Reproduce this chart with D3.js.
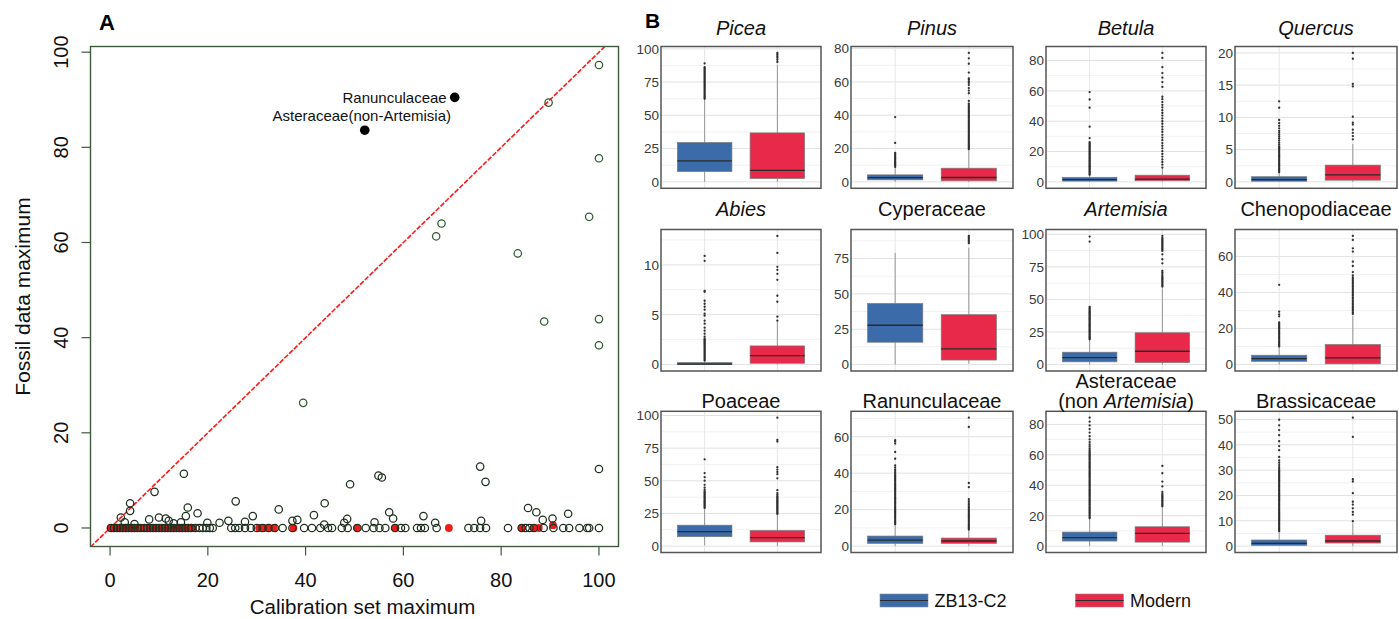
<!DOCTYPE html>
<html>
<head>
<meta charset="utf-8">
<script src="https://cdn.jsdelivr.net/npm/d3@7"></script>
<style>
  body { margin: 0; background: #fff; }
  svg { display: block; font-family: "Liberation Sans", Arial, sans-serif; }
</style>
</head>
<body>
<svg id="fig" width="1399" height="619"></svg>
<script>
// ---------------- Panel A data: calibration-set vs fossil maxima ----------------
// taxa whose fossil maximum rises above zero (open circles)
const risingX = [100, 89.7, 100, 67.8, 66.7, 98, 83.4, 88.8, 100, 100, 39.5, 100, 15.1, 75.7, 76.8,
  54.9, 55.6, 49.1, 9.1, 25.7, 43.9, 4.1, 4.1, 15.9, 34.5, 85.5, 87.2, 93.7, 90.5, 88.5, 75.9,
  57.1, 57.9, 64.1, 66.5, 41.7, 29.2, 17.9, 15.5, 10.0, 8.0, 11.4, 2.2, 24.2, 37.3, 38.3, 48.5,
  47.9, 27.6, 22.4, 14.5, 19.9, 54.1, 43.8, 3.0, 12.0, 5.0, 13.0];
const risingY = [97.3, 89.4, 77.7, 64.0, 61.3, 65.4, 57.7, 43.4, 43.9, 38.4, 26.3, 12.4, 11.4, 12.9, 9.7,
  11.0, 10.6, 9.2, 7.6, 5.6, 5.2, 5.2, 3.6, 4.3, 3.9, 4.2, 3.3, 3.0, 2.0, 1.7, 1.5,
  3.3, 2.0, 2.5, 1.1, 2.7, 2.5, 3.1, 2.5, 2.2, 1.8, 2.0, 2.2, 1.5, 1.5, 1.7, 1.9,
  1.1, 1.3, 1.1, 1.2, 1.1, 1.2, 0.7, 1.2, 1.5, 0.8, 1.0];
// taxa absent from the fossil record (open circles on the zero line)
const flatX = [0.2, 0.8, 1.4, 2, 2.6, 3.2, 3.8, 4.4, 5, 5.6, 6.2, 7, 7.6, 8.2, 8.8, 9.4, 10, 10.6,
  11.2, 11.8, 12.4, 13, 13.6, 14.2, 14.8, 15.4, 16, 16.6, 17.5, 18.3, 19, 19.7, 20.4, 21,
  24.8, 25.6, 26.4, 27.6, 28.8, 30.0, 31.2, 32.4, 33.7, 35.3, 37.3, 39.7, 41.3, 43.0, 44.6,
  45.4, 47.4, 48.6, 50.6, 52.3, 53.9, 55.1, 56.3, 58.3, 59.5, 60.4, 62.8, 63.6, 64.4, 66.8,
  73.3, 74.5, 75.7, 76.9, 81.4, 84.2, 85.0, 85.8, 86.7, 88.7, 90.7, 92.7, 93.9, 96.0, 97.6,
  98.0, 100];
// red filled points
const redX = [0.1, 0.4, 0.7, 1, 1.3, 1.6, 2, 2.4, 2.8, 3.2, 3.6, 4, 4.5, 5, 5.5, 6, 6.5, 7, 7.5, 8,
  8.5, 9, 9.5, 10, 10.5, 11, 11.5, 12, 12.5, 13, 13.5, 14, 14.5, 15, 15.5, 16, 16.5, 17,
  30.5, 31.5, 32.5, 33.5, 37.5, 50.5, 58.3, 69.3, 84.2, 86.7, 87.7, 90.6];
const redY = [0, 0, 0, 0, 0, 0, 0, 0, 0, 0, 0, 0, 0, 0, 0, 0, 0, 0, 0, 0,
  0, 0, 0, 0, 0, 0, 0, 0, 0, 0, 0, 0, 0, 0, 0, 0, 0, 0,
  0, 0, 0, 0, 0, 0, 0, 0, 0, 0, 0, 0.6];
// labelled taxa
const namedTaxa = ["Ranunculaceae", "Asteraceae(non-Artemisia)"];
const namedX = [70.5, 52.1];
const namedY = [90.5, 83.6];
const namedPos = ["left", "above"];
const scatterTicks = [0, 20, 40, 60, 80, 100];

// ---------------- Panel B data: boxplots per taxon ----------------
const taxa = ["Picea", "Pinus", "Betula", "Quercus", "Abies", "Cyperaceae", "Artemisia",
  "Chenopodiaceae", "Poaceae", "Ranunculaceae", "Asteraceae", "Brassicaceae"];
// title lines, each a list of [text, italic]
const titleLines = [
  [[["Picea", true]]], [[["Pinus", true]]], [[["Betula", true]]], [[["Quercus", true]]],
  [[["Abies", true]]], [[["Cyperaceae", false]]], [[["Artemisia", true]]], [[["Chenopodiaceae", false]]],
  [[["Poaceae", false]]], [[["Ranunculaceae", false]]],
  [[["Asteraceae", false]], [["(non ", false], ["Artemisia", true], [")", false]]],
  [[["Brassicaceae", false]]]
];
const tickStep = [25, 20, 20, 5, 5, 25, 25, 20, 25, 20, 20, 10];
const series = ["ZB13-C2", "Modern"];
const seriesColor = ["#3b6ba8", "#e8294a"];
// [lower whisker, Q1, median, Q3, upper whisker]
const fossilBox = [
  [0, 7.7, 15.8, 29.6, 61.5], [0, 1.2, 2.5, 4.2, 8.2], [0, 0.5, 1.5, 3.0, 4.2], [0, 0.1, 0.35, 0.8, 1.4],
  [0, 0, 0.05, 0.2, 0.35], [0, 15.8, 27.8, 43.2, 79], [0, 2.1, 5.4, 9.5, 19], [0, 1.8, 3.3, 5.2, 10],
  [0.5, 7.2, 11.1, 16, 28.3], [0, 1.5, 3.3, 5.5, 11.5], [0, 3.3, 5.5, 9.2, 17.5], [0, 0.3, 1.1, 2.4, 5.5]
];
const modernBox = [
  [0, 2.5, 8.7, 36.8, 88], [0, 0.6, 2.6, 8.2, 19], [0, 0.7, 1.8, 4.4, 9], [0, 0.26, 1.08, 2.6, 5.9],
  [0, 0.13, 0.9, 1.87, 4.3], [0.5, 3.2, 11.1, 35.3, 82.7], [0, 1.5, 10.2, 24.4, 58.5], [0, 0.4, 3.7, 11.1, 27],
  [0, 3.2, 6.4, 11.9, 24], [0, 1.5, 2.8, 4.4, 8.7], [0, 2.6, 8.3, 12.7, 26], [0, 1.2, 2.0, 4.3, 9]
];
const fossilOut = [
  [62.4,63.3,64.1,65,65.8,66.7,67.5,68.4,69.2,70.1,70.9,71.8,72.6,73.5,74.3,75.2,76,76.9,77.7,78.6,79.4,80.3,81.1,82,82.8,83.7,84.5,85.4,86.2,89],
  [8.9,9.6,10.2,10.9,11.5,12.2,12.9,13.5,14.2,14.8,15.5,16.1,16.8,17.4,23.4,38.9],
  [4.7,5.4,6.1,6.8,7.4,8.1,8.8,9.5,10.2,10.8,11.5,12.2,12.9,13.6,14.3,15,15.6,16.3,17,17.7,18.4,19.1,19.8,20.4,21.1,21.8,22.5,23.2,23.9,24.6,25.3,26.1,28.9,36.4,48.9,54.3,59.2],
  [1.5,1.7,1.9,2.1,2.3,2.5,2.7,2.9,3.1,3.3,3.5,3.7,3.9,4.1,4.3,4.5,4.7,4.9,5.1,5.3,5.5,5.8,6.1,6.4,6.7,7,7.3,7.6,7.9,8.3,8.7,9.1,9.6,11.5,12.5],
  [0.4,0.5,0.6,0.7,0.8,0.9,1,1.1,1.2,1.3,1.4,1.5,1.6,1.7,1.8,1.9,2,2.1,2.2,2.3,2.4,2.5,2.6,2.8,3.1,3.4,3.7,4.1,4.4,4.9,5.1,5.5,5.8,6.1,6.4,7.3,7.4,10.4,10.9],
  [],
  [19.4,20.2,21,21.8,22.6,23.4,24.2,25,25.8,26.6,27.4,28.2,29,29.8,30.6,31.4,32.2,33,33.8,34.6,35.4,36.2,37,37.8,38.6,39.4,40.2,41,41.8,42.6,43.4,44.3,94.4,98.2],
  [10.1,10.8,11.5,12.2,12.9,13.6,14.3,15,15.7,16.4,17.1,17.8,18.5,19.2,19.9,20.6,21.3,22,22.7,23.5,26.8,27.9,29.4,44.3],
  [29.2,30,30.8,31.6,32.4,33.2,34,34.8,35.6,36.4,37.2,38,38.8,39.6,40.4,41.2,42,43.3,44.8,46.9,50.1,52.8,55.9,66.4],
  [12,12.7,13.4,14.1,14.8,15.5,16.2,16.9,17.6,18.3,19,19.7,20.4,21.1,21.8,22.5,23.2,23.9,24.6,25.3,26,26.7,27.4,28.1,28.8,29.5,30.2,30.9,31.6,32.3,33,33.7,34.4,35.1,35.8,36.5,37.2,37.9,38.6,39.4,40.3,41.2,42.1,43.2,44.3,47.9,51.6,56.2,57.3,58.1],
  [18.3,19.1,19.9,20.7,21.5,22.3,23.1,23.9,24.7,25.5,26.3,27.1,27.9,28.7,29.5,30.3,31.1,31.9,32.7,33.5,34.3,35.1,35.9,36.7,37.5,38.3,39.1,39.9,40.7,41.5,42.3,43.1,43.9,44.7,45.5,46.3,47.1,47.9,48.7,49.5,50.3,51.1,51.9,52.7,53.5,54.3,55.1,55.9,56.7,57.5,58.3,59.1,59.9,60.7,61.5,62.3,63.1,64.2,65.5,66.8,68.4,70.1,72.2,74.6,76.9,79.3,81.8,84.4],
  [5.9,6.4,6.9,7.4,7.9,8.4,8.9,9.4,9.9,10.4,10.9,11.4,11.9,12.4,12.9,13.4,13.9,14.4,14.9,15.4,15.9,16.4,16.9,17.4,17.9,18.4,18.9,19.4,19.9,20.4,20.9,21.4,21.9,22.4,22.9,23.4,23.9,24.4,24.9,25.4,25.9,26.4,26.9,27.4,27.9,28.4,28.9,29.4,29.9,30.5,31.2,32,32.9,33.8,35.2,37.9,39.5,41.4,43.8,45.8,47.7,49.9]
];
const modernOut = [
  [90.1,91.8,93.2,94.5,95.8,96.9],
  [19.6,20.4,21.1,21.9,22.6,23.4,24.1,24.9,25.6,26.4,27.1,27.9,28.7,29.4,30.2,30.9,31.7,32.4,33.2,33.9,34.7,35.4,36.2,36.9,37.7,38.5,39.2,40,40.7,41.5,42.2,43,43.7,44.5,45.2,46,46.9,48.6,53.2,54.8,56.3,58.1,59.4,60.2,61.3,62.1,65.6,70.9,74.2,77.4],
  [9.4,11.3,13.1,14.8,16.7,18.4,20.2,22.1,23.8,25.6,27.5,29.2,31,32.9,34.6,36.4,38.3,40,41.8,43.7,45.4,47.2,49.1,50.8,52.6,54.5,56.1,62.6,65.8,68.7,71.7,75.6,81.7,85],
  [6.6,7.1,7.6,8.1,8.9,9.2,10.1,14.8,15.2,19.1,20],
  [4.4,4.8,6.3,6.9,8.5,9.1,9.5,9.8,11.2,12.9],
  [85.9,87,88,89,90,91],
  [59.8,60.7,61.6,62.5,63.4,64.3,65.2,66.1,67,68.1,69.4,70.6,71.8,77.7,80.8,84.6,87.2,88.2,89.1,90,90.9,91.8,92.7,93.6,94.5,95.4,96.3,97.2,98.7],
  [28.1,28.9,29.8,30.6,31.5,32.3,33.2,34,34.9,35.7,36.6,37.4,38.3,39.1,40,40.8,41.7,42.5,43.4,44.2,45.1,45.9,46.8,47.6,48.5,49.5,51.4,54.8,57.2,62.8,64.6,69.3,71.5],
  [24.6,25.4,26.2,27,27.8,28.6,29.4,30.2,31,31.8,32.6,33.4,34.2,35,35.8,36.6,37.4,38.2,39.4,40.6,42.8,51.9,55.1,56.8,58.6,60.4,80.1,81.4,98.3],
  [9.1,9.8,10.5,11.2,11.9,12.6,13.3,14,14.7,15.4,16.1,16.8,17.5,18.2,18.9,19.6,20.3,21,21.8,22.7,23.6,24.6,25.8,32.3,34.6,65.3,70.4],
  [26.2,27,27.8,28.6,29.4,30.2,31,31.8,32.6,33.4,34.3,35.6,39.2,42.4,47.9,52.7],
  [9.8,12.4,13.5,14.9,16.4,17.5,20.9,25.5,26.4,43.1,50.7]
];

// ---------------- drawing ----------------
const svg = d3.select("#fig");

// ===== Panel A =====
const A = { left: 90.5, right: 618.5, top: 46.5, bottom: 546.5 };
const frameCol = "#3f5a3f";
const allX = risingX.concat(flatX, redX, namedX);
const allY = risingY.concat(redY, namedY, [0]);
const rExp = (ext, f) => { const p = (ext[1] - ext[0]) * f; return [ext[0] - p, ext[1] + p]; };
const ax = d3.scaleLinear().domain(rExp([0, d3.max(allX)], 0.04)).range([A.left, A.right]);
const ay = d3.scaleLinear().domain(rExp([0, d3.max(allY)], 0.04)).range([A.bottom, A.top]);

const gA = svg.append("g");
gA.append("clipPath").attr("id", "clipA").append("rect")
  .attr("x", A.left).attr("y", A.top).attr("width", A.right - A.left).attr("height", A.bottom - A.top);

// 1:1 reference line
const dd = ax.domain();
gA.append("line").attr("clip-path", "url(#clipA)")
  .attr("x1", ax(dd[0])).attr("y1", ay(dd[0])).attr("x2", ax(dd[1] + 5)).attr("y2", ay(dd[1] + 5))
  .attr("stroke", "#ff1a1a").attr("stroke-width", 1.6).attr("stroke-dasharray", "5,1.6");

// red points (drawn first, circles overlay them)
gA.selectAll("circle.red").data(redX).join("circle").attr("class", "red")
  .attr("cx", (d) => ax(d)).attr("cy", (d, i) => ay(redY[i])).attr("r", 3.9)
  .attr("fill", "#ee1c1c");

// open circles
const openPts = risingX.map((x, i) => [x, risingY[i]]).concat(flatX.map((x) => [x, 0]));
gA.selectAll("circle.open").data(openPts).join("circle").attr("class", "open")
  .attr("cx", (d) => ax(d[0])).attr("cy", (d) => ay(d[1])).attr("r", 3.7)
  .attr("fill", "none").attr("stroke", (d) => d[1] > 20 ? "#2f5a2f" : "#1f2f1f").attr("stroke-width", 1.25);

// labelled taxa
namedTaxa.forEach((name, i) => {
  const cx = ax(namedX[i]), cy = ay(namedY[i]);
  gA.append("circle").attr("cx", cx).attr("cy", cy).attr("r", 4.8).attr("fill", "#000");
  const t = gA.append("text").text(name).attr("font-size", 15).attr("fill", "#111");
  if (namedPos[i] === "left") t.attr("x", cx - 8).attr("y", cy + 5.5).attr("text-anchor", "end");
  else t.attr("x", cx - 3).attr("y", cy - 9).attr("text-anchor", "middle");
});

// frame and axes
gA.append("rect").attr("x", A.left).attr("y", A.top).attr("width", A.right - A.left)
  .attr("height", A.bottom - A.top).attr("fill", "none").attr("stroke", frameCol).attr("stroke-width", 1.4);
scatterTicks.forEach((v) => {
  gA.append("line").attr("x1", ax(v)).attr("x2", ax(v)).attr("y1", A.bottom).attr("y2", A.bottom + 9)
    .attr("stroke", frameCol).attr("stroke-width", 1.2);
  gA.append("text").attr("x", ax(v)).attr("y", 587).attr("text-anchor", "middle")
    .attr("font-size", 20).attr("fill", "#111").text(v);
  gA.append("line").attr("y1", ay(v)).attr("y2", ay(v)).attr("x1", A.left).attr("x2", A.left - 9)
    .attr("stroke", frameCol).attr("stroke-width", 1.2);
  gA.append("text").attr("transform", `translate(68,${ay(v)}) rotate(-90)`).attr("text-anchor", "middle")
    .attr("font-size", 20).attr("fill", "#111").text(v);
});
gA.append("text").attr("x", (A.left + A.right) / 2 + 8).attr("y", 614).attr("text-anchor", "middle")
  .attr("font-size", 20.5).attr("fill", "#111").text("Calibration set maximum");
gA.append("text").attr("transform", `translate(29.5,${(A.top + A.bottom) / 2}) rotate(-90)`)
  .attr("text-anchor", "middle").attr("font-size", 21).attr("fill", "#111").text("Fossil data maximum");
svg.append("text").attr("x", 99).attr("y", 30).attr("font-size", 22).attr("font-weight", "bold").text("A");

// ===== Panel B =====
svg.append("text").attr("x", 645).attr("y", 28).attr("font-size", 21).attr("font-weight", "bold").text("B");
const colEdges = [[661, 821], [851, 1013], [1046, 1206], [1235, 1397]];
const rowEdges = [[46.5, 188.3], [229.5, 371], [411.3, 552.5]];
const titleBase = [35, 216, 408];

taxa.forEach((taxon, k) => {
  const r = Math.floor(k / 4), c = k % 4;
  const [x0, x1] = colEdges[c], [y0, y1] = rowEdges[r];
  const g = svg.append("g").attr("class", "facet");
  const boxes = [fossilBox[k], modernBox[k]];
  const outs = [fossilOut[k], modernOut[k]];
  const hi = d3.max([d3.max(boxes, (b) => b[4]), d3.max(outs[0]) || 0, d3.max(outs[1]) || 0]);
  const ys = d3.scaleLinear().domain(rExp([0, hi], 0.05)).range([y1, y0]);
  const xs = d3.scaleBand().domain(series).range([x0, x1]).paddingInner(0).paddingOuter(0.1);
  const bw = xs.bandwidth() * 0.75;
  const step = tickStep[k];
  const dom = ys.domain();
  const majors = d3.range(0, dom[1] + 1e-9, step);
  const minors = d3.range(-step / 2, dom[1], step).filter((v) => v > dom[0] && v < dom[1]);

  // grid
  g.selectAll("line.minor").data(minors).join("line").attr("class", "minor")
    .attr("x1", x0).attr("x2", x1).attr("y1", (d) => ys(d)).attr("y2", (d) => ys(d))
    .attr("stroke", "#f1f1f1").attr("stroke-width", 1);
  g.selectAll("line.major").data(majors).join("line").attr("class", "major")
    .attr("x1", x0).attr("x2", x1).attr("y1", (d) => ys(d)).attr("y2", (d) => ys(d))
    .attr("stroke", "#e2e2e2").attr("stroke-width", 1);
  g.selectAll("line.vgrid").data(series).join("line").attr("class", "vgrid")
    .attr("x1", (d) => xs(d) + xs.bandwidth() / 2).attr("x2", (d) => xs(d) + xs.bandwidth() / 2)
    .attr("y1", y0).attr("y2", y1).attr("stroke", "#e6e6e6").attr("stroke-width", 1);

  // y tick labels
  g.selectAll("text.tick").data(majors).join("text").attr("class", "tick")
    .attr("x", x0 - 2).attr("y", (d) => ys(d)).attr("dy", "0.36em").attr("text-anchor", "end")
    .attr("font-size", 13.5).attr("fill", "#3a3a3a").text((d) => d);

  series.forEach((s, j) => {
    const b = boxes[j];
    const cx = xs(s) + xs.bandwidth() / 2;
    // whiskers
    g.append("line").attr("x1", cx).attr("x2", cx).attr("y1", ys(b[3])).attr("y2", ys(b[4]))
      .attr("stroke", "#8c8c8c").attr("stroke-width", 0.9);
    g.append("line").attr("x1", cx).attr("x2", cx).attr("y1", ys(b[1])).attr("y2", ys(b[0]))
      .attr("stroke", "#8c8c8c").attr("stroke-width", 0.9);
    // box
    g.append("rect").attr("x", cx - bw / 2).attr("width", bw)
      .attr("y", ys(b[3])).attr("height", Math.max(ys(b[1]) - ys(b[3]), 1.2))
      .attr("fill", seriesColor[j]).attr("stroke", "#7a7a7a").attr("stroke-width", 0.7);
    g.append("line").attr("x1", cx - bw / 2).attr("x2", cx + bw / 2).attr("y1", ys(b[2])).attr("y2", ys(b[2]))
      .attr("stroke", "#2b2b2b").attr("stroke-width", 1.3);
    // outliers
    g.selectAll(`circle.o${j}`).data(outs[j]).join("circle").attr("class", `o${j}`)
      .attr("cx", cx).attr("cy", (d) => ys(d)).attr("r", 1.15).attr("fill", "#2e2e2e");
  });

  // panel border
  g.append("rect").attr("x", x0).attr("y", y0).attr("width", x1 - x0).attr("height", y1 - y0)
    .attr("fill", "none").attr("stroke", "#555").attr("stroke-width", 1.5);

  // title
  const lines = titleLines[k];
  lines.forEach((parts, li) => {
    const t = g.append("text").attr("x", (x0 + x1) / 2)
      .attr("y", titleBase[r] - (lines.length - 1 - li) * 20).attr("text-anchor", "middle")
      .attr("font-size", 20).attr("fill", "#111");
    parts.forEach(([txt, it]) => t.append("tspan").attr("font-style", it ? "italic" : "normal").text(txt));
  });
});

// legend
const legX = [880, 1075.5];
series.forEach((s, j) => {
  svg.append("rect").attr("x", legX[j]).attr("y", 594).attr("width", 48).attr("height", 13)
    .attr("fill", seriesColor[j]).attr("stroke", "#8a8a8a").attr("stroke-width", 0.6);
  svg.append("line").attr("x1", legX[j]).attr("x2", legX[j] + 48).attr("y1", 600.5).attr("y2", 600.5)
    .attr("stroke", "#2b2b2b").attr("stroke-width", 1);
  svg.append("text").attr("x", legX[j] + 54.5).attr("y", 607).attr("font-size", 18).attr("fill", "#111").text(s);
});
</script>
</body>
</html>
